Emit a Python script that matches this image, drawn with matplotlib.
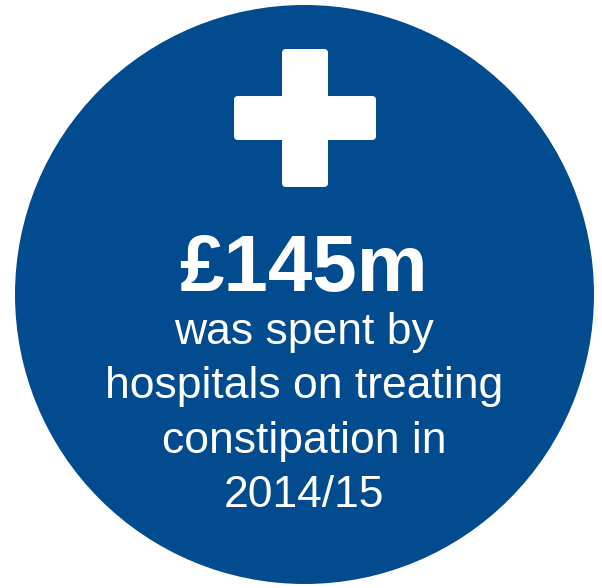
import matplotlib.pyplot as plt
from matplotlib.patches import Circle, FancyBboxPatch

# content
headline = '£145m'
caption_lines = ['was spent by', 'hospitals on treating', 'constipation in', '2014/15']

blue = '#034B8F'
W, H = 602, 588

fig = plt.figure(figsize=(W / 100, H / 100), dpi=100)
ax = fig.add_axes([0, 0, 1, 1])
ax.set_xlim(0, W)
ax.set_ylim(H, 0)
ax.set_aspect('equal')
ax.axis('off')

# blue disc
ax.add_patch(Circle((304.5, 294.5), 289.5, color=blue, lw=0))

# white cross, two rounded bars
ax.add_patch(FancyBboxPatch((282, 49), 46, 138, boxstyle='round,pad=0,rounding_size=4',
                            fc='white', ec='none'))
ax.add_patch(FancyBboxPatch((234, 96), 142, 44, boxstyle='round,pad=0,rounding_size=4',
                            fc='white', ec='none'))

ax.text(304, 291, headline, ha='center', va='baseline', color='white',
        fontsize=57.5, fontweight='bold', family='Liberation Sans')

baselines = [344, 398, 453, 507]
for line, yb in zip(caption_lines, baselines):
    ax.text(304, yb, line, ha='center', va='baseline', color='white',
            fontsize=32, family='Liberation Sans')

plt.savefig('out.png', dpi=100)
